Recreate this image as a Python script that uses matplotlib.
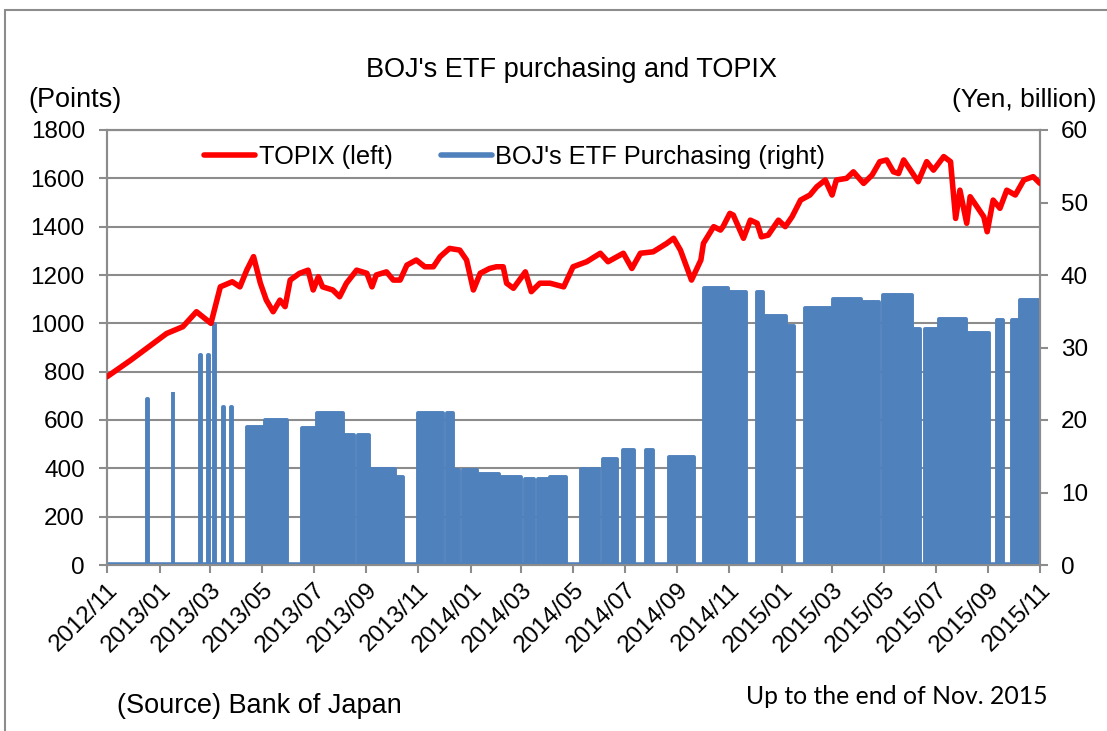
import numpy as np
import pandas as pd
import matplotlib
matplotlib.use('Agg')
import matplotlib.pyplot as plt
import matplotlib.dates as mdates
from matplotlib.patches import Rectangle
from matplotlib.lines import Line2D

#------------------------------------------------------------------------------
# data
topix_dates = ['2012-11-30', '2012-12-28', '2013-01-18', '2013-02-08', '2013-02-27',
               '2013-03-15', '2013-04-01', '2013-04-12', '2013-04-26', '2013-05-05',
               '2013-05-13', '2013-05-21', '2013-05-29', '2013-06-05', '2013-06-13',
               '2013-06-21', '2013-06-27', '2013-07-03', '2013-07-14', '2013-07-24',
               '2013-07-30', '2013-08-05', '2013-08-10', '2013-08-22', '2013-08-30',
               '2013-09-07', '2013-09-19', '2013-10-01', '2013-10-07', '2013-10-12',
               '2013-10-24', '2013-11-01', '2013-11-09', '2013-11-17', '2013-11-28',
               '2013-12-08', '2013-12-18', '2013-12-26', '2014-01-06', '2014-01-18',
               '2014-01-26', '2014-02-03', '2014-02-11', '2014-02-22', '2014-03-02',
               '2014-03-10', '2014-03-14', '2014-03-22', '2014-04-05', '2014-04-12',
               '2014-04-22', '2014-05-04', '2014-05-20', '2014-05-31', '2014-06-16',
               '2014-07-02', '2014-07-11', '2014-07-29', '2014-08-08', '2014-08-18',
               '2014-09-02', '2014-09-18', '2014-09-26', '2014-10-04', '2014-10-17',
               '2014-10-28', '2014-10-31', '2014-11-12', '2014-11-20', '2014-11-23',
               '2014-12-01', '2014-12-05', '2014-12-17', '2014-12-25', '2015-01-02',
               '2015-01-07', '2015-01-15', '2015-01-27', '2015-02-04', '2015-02-12',
               '2015-02-22', '2015-03-05', '2015-03-13', '2015-03-23', '2015-03-31',
               '2015-04-05', '2015-04-17', '2015-04-25', '2015-05-07', '2015-05-17',
               '2015-05-26', '2015-06-03', '2015-06-11', '2015-06-17', '2015-06-23',
               '2015-07-01', '2015-07-10', '2015-07-20', '2015-07-28', '2015-08-09',
               '2015-08-17', '2015-08-23', '2015-08-28', '2015-09-05', '2015-09-09',
               '2015-09-17', '2015-09-25', '2015-09-29', '2015-10-06', '2015-10-14',
               '2015-10-22', '2015-11-01', '2015-11-11', '2015-11-22', '2015-11-30']
topix_values = [779, 848, 903, 958, 986,
                1048, 1000, 1151, 1172, 1151,
                1220, 1276, 1166, 1096, 1048,
                1096, 1069, 1179, 1207, 1220,
                1138, 1193, 1151, 1138, 1110,
                1166, 1220, 1207, 1151, 1200,
                1213, 1179, 1179, 1241, 1262,
                1234, 1234, 1276, 1310, 1303,
                1262, 1138, 1207, 1227, 1234,
                1234, 1166, 1145, 1213, 1131,
                1166, 1166, 1151, 1234, 1255,
                1290, 1255, 1290, 1227, 1290,
                1296, 1331, 1352, 1303, 1179,
                1262, 1331, 1400, 1386, 1400,
                1455, 1448, 1352, 1427, 1414,
                1358, 1365, 1427, 1400, 1441,
                1510, 1531, 1565, 1593, 1531,
                1593, 1600, 1627, 1579, 1614,
                1669, 1676, 1627, 1620, 1676,
                1634, 1586, 1669, 1634, 1690,
                1669, 1434, 1551, 1414, 1524,
                1483, 1441, 1379, 1510, 1476,
                1551, 1531, 1593, 1607, 1579]

# BOJ ETF purchasing (yen, billion): purchase spells
etf_start = ['2013-01-16', '2013-02-15', '2013-03-19', '2013-03-29', '2013-04-04',
             '2013-04-15', '2013-04-25', '2013-05-13', '2013-06-03', '2013-07-17',
             '2013-08-03', '2013-09-03', '2013-09-20', '2013-10-02', '2013-10-18',
             '2013-11-04', '2013-11-30', '2014-01-03', '2014-01-09', '2014-01-22',
             '2014-02-10', '2014-03-06', '2014-04-04', '2014-04-20', '2014-05-04',
             '2014-06-09', '2014-06-20', '2014-07-05', '2014-07-29', '2014-08-25',
             '2014-09-20', '2014-11-01', '2014-11-28', '2015-01-02', '2015-01-09',
             '2015-02-04', '2015-02-27', '2015-03-15', '2015-04-01', '2015-05-03',
             '2015-05-18', '2015-05-30', '2015-06-12', '2015-06-21', '2015-07-02',
             '2015-07-18', '2015-08-03', '2015-09-03', '2015-09-13', '2015-10-10',
             '2015-10-28', '2015-11-06']
etf_end = ['2013-01-16', '2013-02-15', '2013-03-19', '2013-03-29', '2013-04-05',
           '2013-04-15', '2013-04-25', '2013-06-01', '2013-06-28', '2013-08-02',
           '2013-09-02', '2013-09-15', '2013-10-02', '2013-10-16', '2013-11-02',
           '2013-11-11', '2013-12-28', '2014-01-09', '2014-01-16', '2014-02-06',
           '2014-03-04', '2014-03-30', '2014-04-14', '2014-05-01', '2014-05-22',
           '2014-06-15', '2014-06-29', '2014-07-21', '2014-08-09', '2014-09-01',
           '2014-10-19', '2014-11-28', '2014-12-19', '2015-01-08', '2015-02-04',
           '2015-02-13', '2015-03-12', '2015-03-31', '2015-05-03', '2015-05-17',
           '2015-05-24', '2015-06-11', '2015-06-20', '2015-07-02', '2015-07-11',
           '2015-08-03', '2015-09-03', '2015-09-13', '2015-09-30', '2015-10-17',
           '2015-11-03', '2015-11-30']
etf_amount = [22.9, 23.9, 29.0, 29.0, 33.3,
              21.8, 21.8, 19.1, 20.0, 18.9,
              21.0, 17.9, 17.9, 13.3, 13.3,
              12.1, 21.0, 21.0, 13.1, 13.1,
              12.55, 12.1, 11.8, 11.8, 12.1,
              13.2, 13.3, 14.6, 15.9, 15.9,
              14.9, 38.2, 37.6, 37.6, 34.4,
              33.0, 35.4, 35.4, 36.7, 36.3,
              36.3, 37.3, 37.3, 37.3, 32.6,
              32.6, 33.9, 32.0, 32.0, 33.8,
              33.8, 36.5]

x_start = '2012-11-30'
x_end = '2015-11-30'

red = '#ff0000'
blue = '#4f81bd'
grey = '#8c8c8c'

plt.rcParams['font.family'] = ['Liberation Sans', 'DejaVu Sans']

#------------------------------------------------------------------------------
fig = plt.figure(figsize=(11.07, 7.31), dpi=100)

ax = fig.add_axes([107/1107, 1-565/731, (1040-107)/1107, (565-130)/731])
ax2 = ax.twinx()

t_dates = mdates.date2num(pd.to_datetime(topix_dates))
s_num = mdates.date2num(pd.to_datetime(etf_start))
e_num = mdates.date2num(pd.to_datetime(etf_end))
widths = e_num - s_num + 1.0

x0 = mdates.date2num(pd.Timestamp(x_start))
x1 = mdates.date2num(pd.Timestamp(x_end))

#left axis: TOPIX with grid
ax.set_xlim(x0, x1)
ax.set_ylim(0, 1800)
ax.set_yticks(np.arange(0, 1801, 200))
ax.yaxis.grid(True, color=grey, linewidth=1.5)
ax.set_axisbelow(True)

#right axis: ETF purchases
ax2.set_ylim(0, 60)
ax2.set_yticks(np.arange(0, 61, 10))
ax2.bar(s_num, etf_amount, width=widths, align='edge',
        color=blue, edgecolor=blue, linewidth=2.8, joinstyle='round', zorder=2)
ax2.axhline(0, color=blue, linewidth=4, zorder=2)

#TOPIX line on top of the bars
ax2.plot(t_dates, topix_values, color=red, linewidth=4,
         solid_joinstyle='round', solid_capstyle='round',
         transform=ax.transData, zorder=3)

#ticks
ticks = pd.date_range(x_start, x_end, freq='2ME')
ax.set_xticks(mdates.date2num(ticks))
ax.set_xticklabels([t.strftime('%Y/%m') for t in ticks], rotation=45,
                   ha='right', va='top', rotation_mode='anchor')

for a in (ax, ax2):
    a.tick_params(axis='both', labelsize=17.5, direction='out', length=6,
                  width=1.5, color=grey, pad=8)
    for sp in a.spines.values():
        sp.set_color(grey)
        sp.set_linewidth(1.5)
ax.tick_params(axis='y', pad=10)
ax2.tick_params(axis='y', pad=9)
ax.tick_params(axis='x', pad=4)

#legend
handles = [Line2D([], [], color=red, linewidth=4, solid_capstyle='round'),
           Line2D([], [], color=blue, linewidth=4, solid_capstyle='round')]
ax2.legend(handles, ['TOPIX (left)', "BOJ's ETF Purchasing (right)"],
           loc='center left', bbox_to_anchor=(0.104, 0.938), ncol=2,
           frameon=False, fontsize=18.3, handlelength=2.0,
           handletextpad=0.15, columnspacing=1.9, borderpad=0, borderaxespad=0)

#texts
fig.text(572/1107, 1-70/731, "BOJ's ETF purchasing and TOPIX",
         ha='center', va='center', fontsize=19.5)
fig.text(28/1107, 1-100/731, '(Points)', ha='left', va='center', fontsize=19.5)
fig.text(1096/1107, 1-100/731, '(Yen, billion)', ha='right', va='center', fontsize=19)
fig.text(117/1107, 1-706/731, '(Source) Bank of Japan', ha='left', va='center',
         fontsize=19.5)
fig.text(746/1107, 1-697/731, 'Up to the end of Nov. 2015', ha='left', va='center',
         fontsize=17.8, family=['Lato', 'DejaVu Sans'])

#outer frame
fig.patches.append(Rectangle((4.5/1107, -0.1), 1.2, 1.1-10/731, transform=fig.transFigure,
                             fill=False, edgecolor=grey, linewidth=1.5))

fig.savefig('out.png', dpi=100)
